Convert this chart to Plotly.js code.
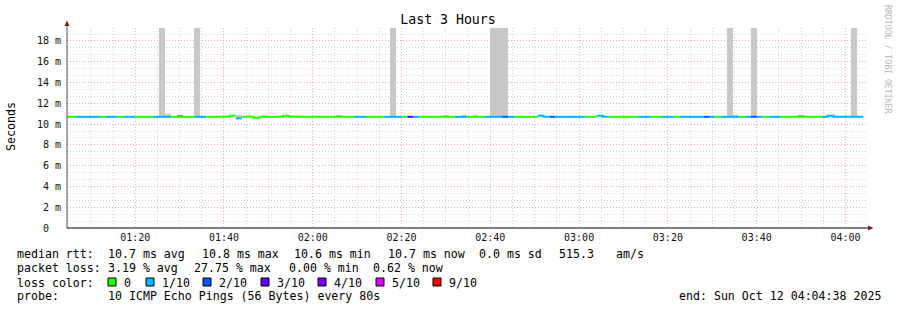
<!DOCTYPE html>
<html><head><meta charset="utf-8">
<script src="https://cdn.plot.ly/plotly-3.0.1.min.js"></script>
<style>html,body{margin:0;padding:0;background:#fff}</style>
</head><body><div id="chart" style="width:897px;height:310px"></div>
<script>
// ---------------- data ----------------
const firstStepUTC = Date.UTC(2025, 9, 12, 1, 4, 0);   // start of first 80 s step
const stepSeconds = 80;
const rangeStartUTC = Date.UTC(2025, 9, 12, 1, 4, 38);
const rangeEndUTC   = Date.UTC(2025, 9, 12, 4, 4, 38);

// median rtt per step (ms)
const medianMs = [
10.7,10.7,10.7,10.7,10.7,10.7,10.7,10.7,10.7,10.7, 10.7,10.7,10.7,10.7,10.7,10.7,10.7,10.7,10.7,10.7,
10.7,10.7,10.7,10.7,10.7,10.7,10.7,10.7,10.8,10.55, 10.7,10.7,10.6,10.7,10.7,10.7,10.7,10.8,10.7,10.7,
10.7,10.7,10.7,10.7,10.7,10.7,10.7,10.7,10.7,10.7, 10.7,10.7,10.7,10.7,10.7,10.7,10.7,10.7,10.7,10.7,
10.7,10.7,10.7,10.7,10.7,10.7,10.7,10.7,10.7,10.7, 10.7,10.7,10.7,10.7,10.7,10.7,10.7,10.7,10.7,10.7,
10.8,10.7,10.7,10.7,10.7,10.7,10.7,10.7,10.7,10.7, 10.8,10.7,10.7,10.7,10.7,10.7,10.7,10.7,10.7,10.7,
10.7,10.7,10.7,10.7,10.7,10.7,10.7,10.7,10.7,10.7, 10.7,10.7,10.7,10.7,10.7,10.7,10.7,10.7,10.7,10.7,
10.7,10.7,10.7,10.7,10.7,10.7,10.7,10.7,10.7,10.8, 10.7,10.7,10.7,10.7,10.7
];
// lost pings per step (out of 10)
const lossTenths = [
0,0,1,1,1,1,0,1,1,0, 1,1,0,0,0,1,1,1,0,0,
0,0,1,1,0,0,0,0,0,1, 0,0,0,0,0,0,0,0,0,0,
0,0,0,0,0,0,0,0,0,1, 1,0,0,0,1,1,1,0,3,1,
0,0,0,0,0,0,1,1,0,0, 0,1,1,1,2,1,0,0,0,0,
1,1,2,1,1,1,1,1,0,0, 1,1,0,0,0,0,0,1,1,0,
0,1,1,0,1,1,1,1,2,1, 0,1,1,1,0,1,2,1,0,1,
1,0,0,0,0,0,0,0,1,1, 1,1,1,1,1
];
// smoke (spread of the individual pings), sparse: step index, low, high (ms), shade
const smokeStep  = [16, 17, 19, 22, 29, 46, 55, 64, 67, 69, 72, 73, 74, 112, 113, 116, 124, 133];
const smokeLowMs = [10.7,10.7,10.7,10.7,10.6,10.7,10.7,10.7,10.7,10.7,10.7,10.7,10.7,10.7,10.7,10.7,10.7,10.7];
const smokeHighMs= [30, 10.95, 10.85, 30, 10.85, 10.85, 30, 10.85, 10.85, 10.85, 30, 30, 30, 30, 10.85, 30, 10.85, 30];
const smokeShade = ['#c8c8c8','#c8c8c8','#888888','#c8c8c8','#c8c8c8','#c8c8c8','#c8c8c8','#c8c8c8','#c8c8c8','#c8c8c8',
                    '#c8c8c8','#c8c8c8','#c8c8c8','#c8c8c8','#c8c8c8','#c8c8c8','#999999','#c8c8c8'];

const lossLevels = [0, 1, 2, 3, 4, 5, 9];
const lossLabels = ['0', '1/10', '2/10', '3/10', '4/10', '5/10', '9/10'];
const lossColors = ['#26ff00', '#00b8ff', '#0059ff', '#5e00ff', '#7e00ff', '#dd00ff', '#ff0000'];

const yTickVals = [0, 2, 4, 6, 8, 10, 12, 14, 16, 18];
const yTickText = ['0\u00a0\u00a0', '2 m', '4 m', '6 m', '8 m', '10 m', '12 m', '14 m', '16 m', '18 m'];

const rttLine  = ['median rtt:', '10.7 ms avg', '10.8 ms max', '10.6 ms min', '10.7 ms now', '0.0 ms sd', '515.3', 'am/s'];
const lossLine = ['packet loss:', '3.19 % avg', '27.75 % max', '0.00 % min', '0.62 % now'];
const probeLine = ['probe:', '10 ICMP Echo Pings (56 Bytes) every 80s'];
const endText = 'end: Sun Oct 12 04:04:38 2025';
const titleText = 'Last 3 Hours';

// ---------------- build ----------------
const MONO = 'DejaVu Sans Mono, monospace';
const L = 67, R = 866, T = 28, B = 228;
const PX = p => (p - L) / (R - L);
const PY = p => (B - p) / (B - T);
const stepMs = stepSeconds * 1000;
const tStart = i => firstStepUTC + i * stepMs;

const traces = [];
// smoke bars
traces.push({
  type: 'bar',
  x: smokeStep.map(tStart),
  base: smokeLowMs,
  y: smokeHighMs.map((h, k) => h - smokeLowMs[k]),
  width: smokeStep.map(() => stepMs),
  offset: 0,
  marker: { color: smokeShade, line: { width: 0 } },
  hoverinfo: 'skip', showlegend: false
});
// median line coloured by loss
lossLevels.forEach((lvl, li) => {
  const xs = [], ys = [];
  for (let i = 0; i < medianMs.length; i++) {
    if (lossTenths[i] !== lvl) continue;
    if (i === 0 || lossTenths[i - 1] !== lvl) {
      if (xs.length) { xs.push(null); ys.push(null); }
      xs.push(tStart(i)); ys.push(medianMs[i]);
    } else {
      xs.push(tStart(i)); ys.push(medianMs[i]);
    }
    xs.push(tStart(i + 1)); ys.push(medianMs[i]);
  }
  if (xs.length) traces.push({
    type: 'scatter', mode: 'lines', x: xs, y: ys,
    line: { color: lossColors[li], width: 2 },
    connectgaps: false, hoverinfo: 'skip', showlegend: false
  });
});

const ann = [];
const txt = (px, py, s, extra) => ann.push(Object.assign({
  xref: 'paper', yref: 'paper', x: PX(px), y: PY(py), text: s, showarrow: false,
  xanchor: 'left', yanchor: 'middle', borderpad: 0,
  font: { family: MONO, size: 11.6, color: '#000' }
}, extra || {}));

const rttX = [16, 107, 201, 293, 387, 478, 558, 615];
rttLine.forEach((s, k) => txt(rttX[k], 254, s));
const lossX = [16, 107, 193, 288, 372];
lossLine.forEach((s, k) => txt(lossX[k], 268, s));
txt(16, 282.5, 'loss color:');
const boxX = [108, 146, 203, 261, 318, 376, 433];
const shapes = [];
lossLabels.forEach((s, k) => {
  shapes.push({ type: 'rect', xref: 'paper', yref: 'paper',
    x0: PX(boxX[k]), x1: PX(boxX[k] + 8), y0: PY(278), y1: PY(286),
    fillcolor: lossColors[k], line: { color: '#000', width: 1 } });
  txt(boxX[k] + 15, 282.5, s);
});
txt(16, 296, probeLine[0]);
txt(107, 296, probeLine[1]);
txt(678, 296, endText);
// axis title
txt(11, 127, 'Seconds', { xanchor: 'center', textangle: -90 });
// watermark
txt(888, 59, 'RRDTOOL / TOBI OETIKER', { xanchor: 'center', textangle: 90,
  font: { family: MONO, size: 8.2, color: '#b8b8b8' } });

// axis arrows + y axis extension
const arrowCol = '#8b1a1a';
shapes.push({ type: 'line', xref: 'paper', yref: 'paper', x0: PX(67), x1: PX(67), y0: PY(228), y1: PY(24),
  line: { color: '#555', width: 1 } });
shapes.push({ type: 'line', xref: 'paper', yref: 'paper', x0: PX(67), x1: PX(869), y0: PY(228), y1: PY(228),
  line: { color: '#000', width: 1 } });
shapes.push({ type: 'path', xref: 'paper', yref: 'paper', fillcolor: arrowCol, line: { width: 0 },
  path: `M ${PX(64.5)},${PY(26)} L ${PX(67)},${PY(20.5)} L ${PX(69.5)},${PY(26)} Z` });
shapes.push({ type: 'path', xref: 'paper', yref: 'paper', fillcolor: arrowCol, line: { width: 0 },
  path: `M ${PX(868)},${PY(225.5)} L ${PX(873.5)},${PY(228)} L ${PX(868)},${PY(230.5)} Z` });

const layout = {
  width: 897, height: 310,
  margin: { l: L, r: 897 - R, t: T, b: 310 - B, pad: 0 },
  paper_bgcolor: '#fff', plot_bgcolor: '#fff',
  showlegend: false, bargap: 0,
  title: { text: titleText, x: 448 / 897, xref: 'container', xanchor: 'center',
           y: 1 - 19.5 / 310, yref: 'container', yanchor: 'middle',
           font: { family: MONO, size: 13.2, color: '#000' } },
  xaxis: {
    type: 'date', range: [rangeStartUTC, rangeEndUTC],
    tickformat: '%H:%M', dtick: 20 * 60 * 1000, tick0: Date.UTC(2025, 9, 12, 1, 20, 0),
    ticks: '', showline: false, zeroline: false,
    showgrid: true, gridcolor: 'rgba(240,140,140,0.7)', griddash: '1px,2px', gridwidth: 1,
    minor: { dtick: 5 * 60 * 1000, tick0: Date.UTC(2025, 9, 12, 1, 20, 0), showgrid: true,
             gridcolor: '#d6d6d6', griddash: '1px,2px', gridwidth: 1, ticks: '' },
    tickfont: { family: MONO, size: 10, color: '#111' },
    ticklabelstandoff: 2,
    fixedrange: true
  },
  yaxis: {
    range: [0, (B - T) / 10.39],
    tickvals: yTickVals, ticktext: yTickText,
    ticks: '', showline: false, zeroline: false,
    showgrid: true, gridcolor: 'rgba(240,140,140,0.7)', griddash: '1px,2px', gridwidth: 1,
    minor: { dtick: 2 / 3, tick0: 0, showgrid: true, gridcolor: '#d6d6d6', griddash: '1px,2px', gridwidth: 1, ticks: '' },
    tickfont: { family: MONO, size: 10, color: '#111' },
    ticklabelstandoff: 5,
    fixedrange: true
  },
  annotations: ann,
  shapes: shapes
};

Plotly.newPlot('chart', traces, layout, { staticPlot: true, displayModeBar: false });
</script>
</body></html>
